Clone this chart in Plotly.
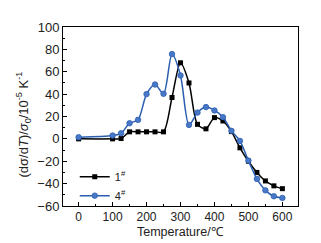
import plotly.graph_objects as go

temps = [0, 100, 125, 150, 175, 200, 225, 250, 275, 300, 325, 350, 375, 400,
         425, 450, 475, 500, 525, 550, 575, 600]
s1 = [0, 0, 0.3, 6.3, 6.3, 6.3, 6.3, 6.3, 37, 68, 50, 13, 9, 19,
      16, 6.5, -8, -20, -30, -37.6, -42, -44.5]
s4 = [1.5, 3, 5, 14, 17, 40, 48.6, 40.3, 75.8, 56.7, 12.5, 23.5, 28.4, 25.4,
      19.4, 7.2, -1.8, -19.4, -35.8, -46, -51.3, -52.8]
names = ["1<sup>#</sup>", "4<sup>#</sup>"]
x_title = "Temperature/℃"
y_title = "(dσ/d<i>T</i>)/<i>σ</i><sub>0</sub>/10<sup>-5</sup> K<sup>-1</sup>"

font = "Liberation Sans Narrow, Arial Narrow, Liberation Sans, Arial, sans-serif"
tfont = "Liberation Sans, Arial, sans-serif"
fig = go.Figure()
fig.add_trace(go.Scatter(x=temps, y=s1, name=names[0], mode="lines+markers",
                         line=dict(color="#000000", width=1.5, shape="spline", smoothing=0.8),
                         marker=dict(symbol="square", size=5, color="#000000")))
fig.add_trace(go.Scatter(x=temps, y=s4, name=names[1], mode="lines+markers",
                         line=dict(color="#2b5eb0", width=1.5, shape="spline", smoothing=0.8),
                         marker=dict(symbol="circle", size=5.5, color="#4a78c8",
                                     line=dict(color="#2b5eb0", width=0.8))))

axis_common = dict(showline=True, linecolor="black", linewidth=1, mirror=True,
                   ticks="inside", ticklen=4, tickcolor="black", showgrid=False,
                   zeroline=False, automargin=False)
fig.update_xaxes(range=[-46, 646], tickvals=[0, 100, 200, 300, 400, 500, 600],
                 minor=dict(ticks="inside", ticklen=2, dtick=50, tick0=0, tickcolor="black"),
                 tickfont=dict(family=font, size=12, color="#222"),
                 **axis_common)
fig.update_yaxes(range=[-60, 100], dtick=20,
                 minor=dict(ticks="inside", ticklen=2, dtick=10, tick0=0, tickcolor="black"),
                 tickfont=dict(family=font, size=13, color="#222"),
                 **axis_common)
fig.add_annotation(text=x_title, xref="paper", yref="paper", x=0.5, y=0,
                   yshift=-26, xanchor="center", yanchor="middle", showarrow=False,
                   borderpad=0, font=dict(family=tfont, size=12.5, color="#222"))
fig.add_annotation(text=y_title, xref="paper", yref="paper", x=0, y=0.5,
                   xshift=-40, yshift=-8, xanchor="center", yanchor="middle",
                   textangle=-90, showarrow=False,
                   font=dict(family=tfont, size=13, color="#222"))
fig.update_layout(width=313, height=235, margin=dict(l=55, r=23, t=19, b=37),
                  paper_bgcolor="white", plot_bgcolor="white",
                  legend=dict(x=0.05, y=0.245, xanchor="left", yanchor="top",
                              bgcolor="rgba(0,0,0,0)", font=dict(family=tfont, size=11, color="#222"),
                              itemwidth=30, tracegroupgap=0),
                  showlegend=True)
fig.write_html("out.html")
